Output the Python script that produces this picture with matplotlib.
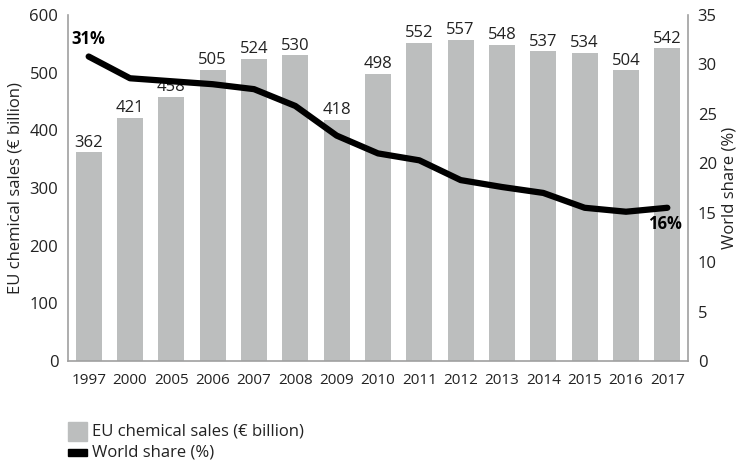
import matplotlib
matplotlib.use("Agg")
import matplotlib.pyplot as plt
from matplotlib.patches import Rectangle

years = ["1997", "2000", "2005", "2006", "2007", "2008", "2009", "2010",
         "2011", "2012", "2013", "2014", "2015", "2016", "2017"]
sales = [362, 421, 458, 505, 524, 530, 418, 498, 552, 557, 548, 537, 534, 504, 542]
share = [30.8, 28.6, 28.3, 28.0, 27.5, 25.8, 22.8, 21.0, 20.3, 18.3, 17.6, 17.0, 15.5, 15.1, 15.5]
left_ticks = [0, 100, 200, 300, 400, 500, 600]
right_ticks = [0, 5, 10, 15, 20, 25, 30, 35]

plt.rcParams['font.family'] = ['Open Sans', 'DejaVu Sans']
FS = 12
BAR = "#bcbebe"
SPINE = "#a0a0a0"
TXT = "#222222"

fig = plt.figure(figsize=(7.39, 4.61), dpi=100)
ax = fig.add_axes([68/739, 1-361/461, 620/739, 346/461])
x = list(range(len(years)))
ax.bar(x, sales, width=0.63, color=BAR, zorder=1)
for xi, v in zip(x, sales):
    ax.text(xi, v + 3, str(v), ha="center", va="bottom", fontsize=FS, color=TXT)
ax.set_xlim(-0.5, len(years) - 0.5)
ax.set_ylim(0, 600)
ax.set_yticks(left_ticks)
ax.set_xticks(x)
ax.set_xticklabels(years)
ax.tick_params(axis="both", length=0, labelsize=FS, colors=TXT)
ax.tick_params(axis="x", pad=9, labelsize=11)
ax.tick_params(axis="y", pad=7)
ax.set_ylabel("EU chemical sales (€ billion)", fontsize=FS, color=TXT, labelpad=4)
for s in ["top", "right"]:
    ax.spines[s].set_visible(False)
for s in ["left", "bottom"]:
    ax.spines[s].set_color(SPINE)
    ax.spines[s].set_linewidth(1.2)

ax2 = ax.twinx()
ax2.plot(x, share, color="black", linewidth=4.5, solid_capstyle="round", solid_joinstyle="round", zorder=3)
ax2.set_ylim(0, 35)
ax2.set_yticks(right_ticks)
ax2.tick_params(axis="y", length=0, labelsize=FS, colors=TXT, pad=7)
ax2.set_ylabel("World share (%)", fontsize=FS, color=TXT, labelpad=3)
for s in ["top", "left", "bottom"]:
    ax2.spines[s].set_visible(False)
ax2.spines["right"].set_color(SPINE)
ax2.spines["right"].set_linewidth(1.2)

ax2.annotate("31%", (x[0], share[0]), xytext=(0, 6), textcoords="offset points",
             ha="center", va="bottom", fontsize=FS, fontweight="bold")
ax2.annotate("16%", (x[-1], share[-1]), xytext=(-2, -5), textcoords="offset points",
             ha="center", va="top", fontsize=FS, fontweight="bold")

# legend
fig.add_artist(Rectangle((68/739, 1-441/461), 19/739, 19/461, transform=fig.transFigure, color=BAR))
fig.text(92/739, 1-431/461, "EU chemical sales (€ billion)", fontsize=FS, va="center", color=TXT)
fig.add_artist(Rectangle((68/739, 1-456/461), 19/739, 7/461, transform=fig.transFigure, color="black"))
fig.text(92/739, 1-452/461, "World share (%)", fontsize=FS, va="center", color=TXT)

fig.savefig("out.png", dpi=100)
